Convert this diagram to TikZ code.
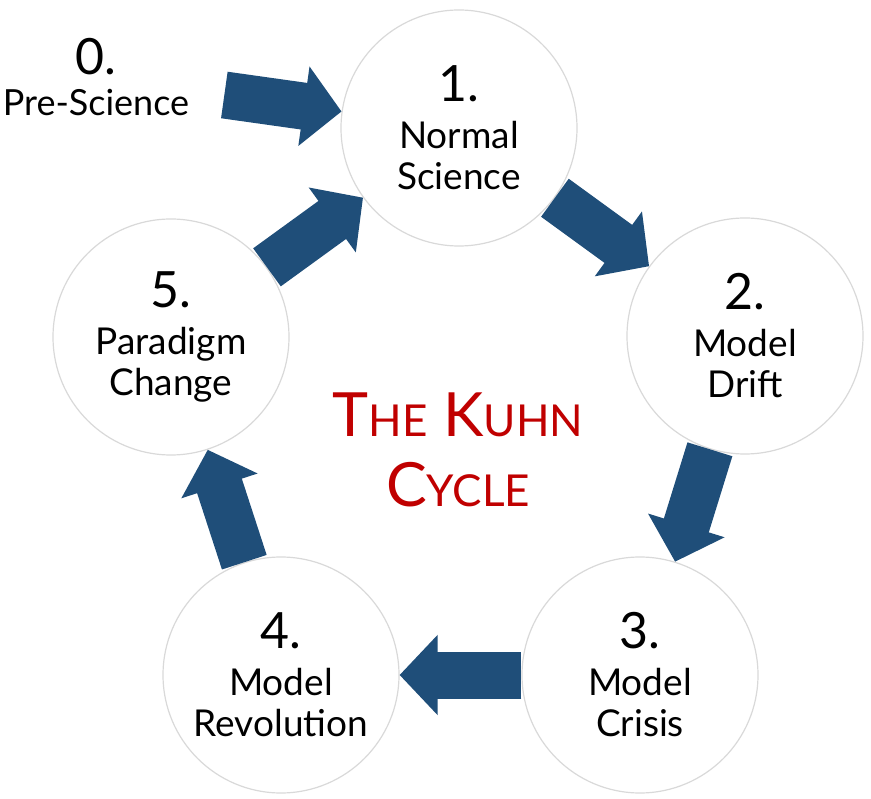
\documentclass[tikz,border=0pt]{standalone}
\usepackage{fontspec}
\setmainfont{Lato}
\usetikzlibrary{arrows.meta}
\definecolor{kuhnblue}{RGB}{31,78,121}
\definecolor{kuhnred}{RGB}{192,0,0}
\newcommand{\numfont}{\fontsize{50}{50}\selectfont}
\newcommand{\capbig}[1]{{\fontsize{61}{61}\selectfont #1}}
\newcommand{\capsmall}[1]{{\fontsize{44}{44}\selectfont #1}}
\tikzset{
  stage/.style={circle,draw=gray!30,line width=1.2pt,fill=white,minimum size=236pt,
    inner sep=0pt,align=center,font=\fontsize{37}{41}\selectfont},
  bigarrow/.style={draw=kuhnblue,line width=47pt,-{Triangle[length=38pt,width=78pt]}},
}
\begin{document}
\begin{tikzpicture}[x=1pt,y=-1pt]
    \useasboundingbox (0,0) rectangle (871,799);
    \node[align=center,font=\fontsize{36}{41}\selectfont] (n0) at (96,77) {{\numfont 0.}\\Pre-Science}; %vor der Wissenschaft
    \node[stage] (n1) at (459,128) {{\numfont 1.}\\[6pt]Normal\\Science};
    \node[stage] (n2) at (745,336) {{\numfont 2.}\\[6pt]Model\\Drift};
    \node[stage] (n3) at (640,675) {{\numfont 3.}\\[6pt]Model\\Crisis};
    \node[stage] (n4) at (281,675) {{\numfont 4.}\\[6pt]Model\\Revolution};
    \node[stage] (n5) at (171,337) {{\numfont 5.}\\[6pt]Paradigm\\Change};
    \node[align=center,text=kuhnred,font=\fontsize{61}{70}\selectfont] (title) at (458,450)
        {\capbig{T}\capsmall{HE} \capbig{K}\capsmall{UHN}\\\capbig{C}\capsmall{YCLE}}; %Titel
    \draw[bigarrow,shorten <=32pt] (n0) -- (n1);
    \draw[bigarrow] (n1) -- (n2);
    \draw[bigarrow] (n2) -- (n3);
    \draw[bigarrow] (n3) -- (n4);
    \draw[bigarrow] (n4) -- (n5);
    \draw[bigarrow] (n5) -- (n1);
\end{tikzpicture}
\end{document}
